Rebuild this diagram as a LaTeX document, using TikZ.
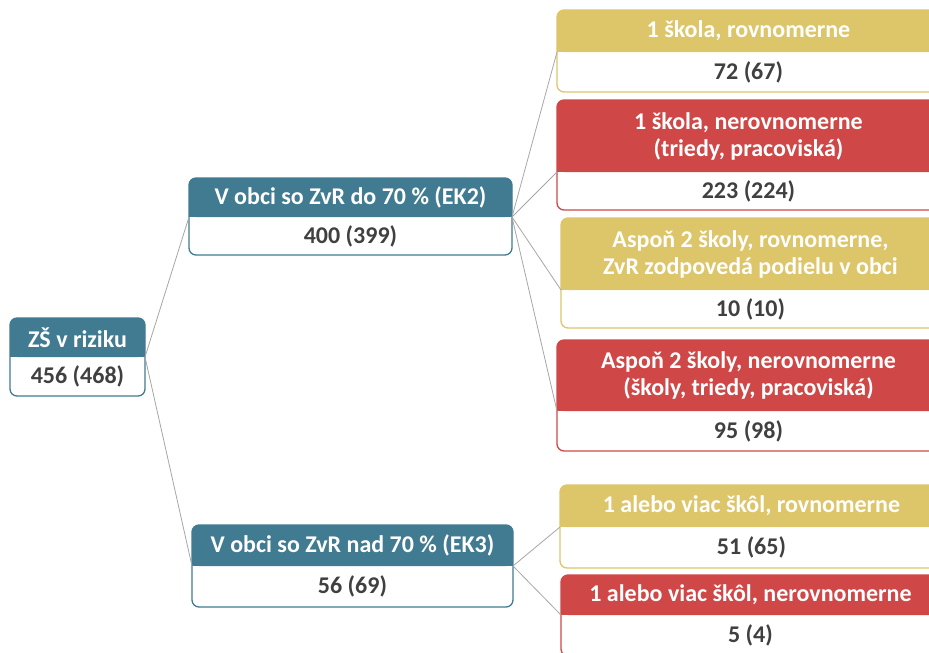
\documentclass[tikz,border=0pt]{standalone}
\usepackage{fontspec}
\setmainfont{Carlito}
\usetikzlibrary{positioning}

\definecolor{ekteal}{HTML}{417B91}
\definecolor{ekgold}{HTML}{DDC56A}
\definecolor{ekred}{HTML}{CF4747}
\definecolor{ektext}{HTML}{404040}
\definecolor{ekline}{HTML}{A6A6A6}

\tikzset{
    head/.style={inner sep=0pt, outer sep=0pt, anchor=north west, text=white, align=center,
        font=\fontsize{24}{27}\selectfont\bfseries},
    body/.style={inner sep=0pt, outer sep=0pt, text=ektext,
        font=\fontsize{24}{27}\selectfont\bfseries},
    conn/.style={ekline, line width=0.8pt}
}

% name, x, y, width, head height, body height, colour, head text, value
\newcommand{\ekbox}[9]{%
    \fill[#7, rounded corners=7pt] (#2,#3) rectangle ++(#4,#5);
    \fill[#7] (#2,#3+#5-8) rectangle ++(#4,8);
    \node[head, minimum width=#4, minimum height=#5] (#1) at (#2,#3) {#8};
    \node[body, minimum width=#4, minimum height=#6, below=0pt of #1] (#1val) {#9};
    \draw[#7, line width=1.3pt, rounded corners=7pt] (#1.north west) rectangle (#1val.south east);
}

\begin{document}
\begin{tikzpicture}[x=1pt, y=-1pt]
    \useasboundingbox (0,0) rectangle (929,653);

    \ekbox{root}{10}{318}{135}{39}{39}{ekteal}{ZŠ v riziku}{456 (468)}
    \ekbox{ektwo}{189}{178}{323}{39}{38}{ekteal}{V obci so ZvR do 70 \% (EK2)}{400 (399)}
    \ekbox{ekthree}{192}{525}{321}{41}{41}{ekteal}{V obci so ZvR nad 70 \% (EK3)}{56 (69)}

    \ekbox{onerov}{557}{10}{383}{42}{40}{ekgold}{1 škola, rovnomerne}{72 (67)}
    \ekbox{onenerov}{557}{100}{383}{72}{38}{ekred}{1 škola, nerovnomerne\\(triedy, pracoviská)}{223 (224)}
    \ekbox{tworov}{561}{218}{379}{72}{38}{ekgold}{Aspoň 2 školy, rovnomerne,\\ZvR zodpovedá podielu v obci}{10 (10)}
    \ekbox{twonerov}{557}{340}{383}{71}{40}{ekred}{Aspoň 2 školy, nerovnomerne\\(školy, triedy, pracoviská)}{95 (98)}

    \ekbox{morerov}{560}{485}{383}{42}{41}{ekgold}{1 alebo viac škôl, rovnomerne}{51 (65)}
    \ekbox{morenerov}{561}{575}{379}{40}{41}{ekred}{1 alebo viac škôl, nerovnomerne}{5 (4)}

    \draw[conn] (root.south east) -- (ektwo.south west);
    \draw[conn] (root.south east) -- (ekthree.south west);
    \draw[conn] (ektwo.south east) -- (onerov.south west);
    \draw[conn] (ektwo.south east) -- (onenerov.south west);
    \draw[conn] (ektwo.south east) -- (tworov.south west);
    \draw[conn] (ektwo.south east) -- (twonerov.south west);
    \draw[conn] (ekthree.south east) -- (morerov.south west);
    \draw[conn] (ekthree.south east) -- (morenerov.south west);
\end{tikzpicture}
\end{document}
